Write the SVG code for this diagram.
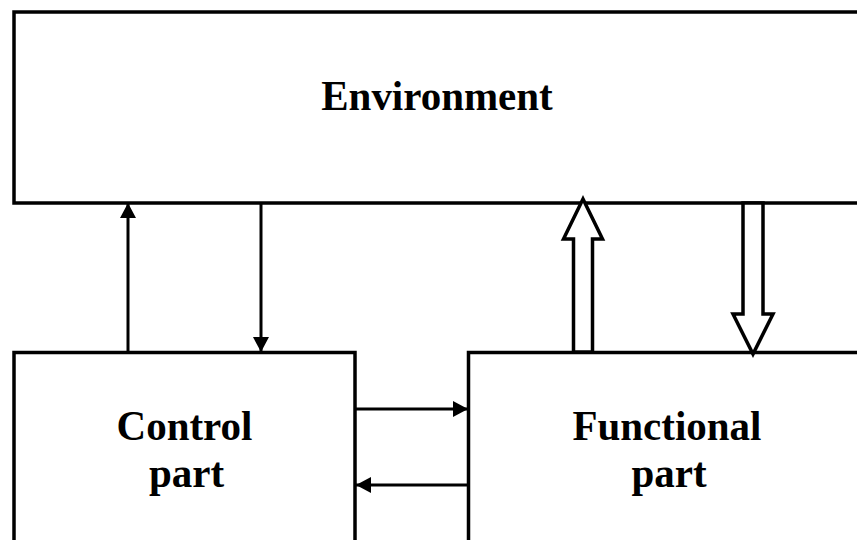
<svg xmlns="http://www.w3.org/2000/svg" width="857" height="540" viewBox="0 0 857 540">
<defs>
<style>
.box{fill:#fff;stroke:#000;stroke-width:3.5}
.lbl{font-family:"Liberation Serif","Times New Roman",serif;font-weight:bold;font-size:41px;text-anchor:middle;fill:#000}
.ln{stroke:#000;stroke-width:3;fill:none}
.hollow{fill:#fff;stroke:#000;stroke-width:3.5;stroke-linejoin:miter}
</style>
<marker id="ah" markerUnits="userSpaceOnUse" markerWidth="16" markerHeight="16" viewBox="0 0 15 16" refX="15" refY="8" orient="auto">
<path d="M0,0 L15,8 L0,16 Z" fill="#000"/>
</marker>
</defs>
<g id="environment">
<rect class="box" x="14" y="12" width="860" height="191"/>
<text class="lbl" transform="translate(437,110) scale(1,1.05)">Environment</text>
</g>
<g id="control">
<rect class="box" x="14" y="352.5" width="341" height="220"/>
<text class="lbl" transform="translate(184.5,440) scale(1,1.05)">Control</text>
<text class="lbl" transform="translate(186.5,487) scale(1,1.05)">part</text>
</g>
<g id="functional">
<rect class="box" x="468.5" y="352.5" width="400" height="220"/>
<text class="lbl" transform="translate(667,440) scale(1,1.05)">Functional</text>
<text class="lbl" transform="translate(669,487) scale(1,1.05)">part</text>
</g>
<g id="connectors">
<line class="ln" x1="128" y1="352" x2="128" y2="203" marker-end="url(#ah)"/>
<line class="ln" x1="261" y1="203" x2="261" y2="352" marker-end="url(#ah)"/>
<line class="ln" x1="355" y1="409" x2="468" y2="409" marker-end="url(#ah)"/>
<line class="ln" x1="468" y1="485" x2="356" y2="485" marker-end="url(#ah)"/>
<polygon class="hollow" points="573.5,352 573.5,239 563.5,239 583,199 602.5,239 592.5,239 592.5,352"/>
<polygon class="hollow" points="743,203 743,314 733,314 753,354 773,314 763,314 763,203"/>
</g>
</svg>
